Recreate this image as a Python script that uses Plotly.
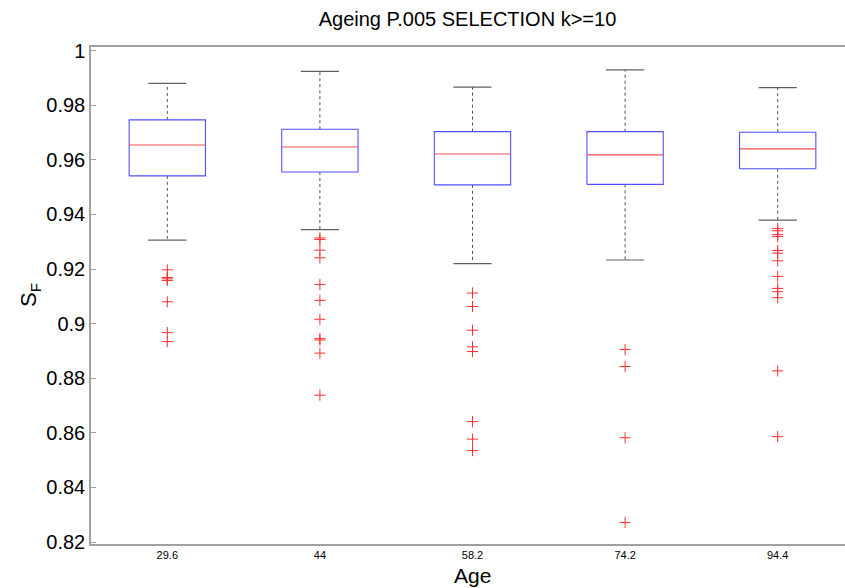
import plotly.graph_objects as go

# ---- data ----
ages = ["29.6", "44", "58.2", "74.2", "94.4"]
q1 = [0.9541, 0.9555, 0.9508, 0.9510, 0.9567]
median = [0.9654, 0.9647, 0.9621, 0.9618, 0.9640]
q3 = [0.9746, 0.9712, 0.9703, 0.9703, 0.9701]
lower_whisker = [0.9306, 0.9344, 0.9220, 0.9233, 0.9379]
upper_whisker = [0.9880, 0.9924, 0.9866, 0.9929, 0.9864]
outliers = [
    [0.9197, 0.9169, 0.9164, 0.9158, 0.9080, 0.8967, 0.8934],
    [0.9314, 0.9308, 0.9269, 0.9241, 0.9143, 0.9085, 0.9016, 0.8945, 0.8940, 0.8892, 0.8738],
    [0.9112, 0.9063, 0.8976, 0.8915, 0.8898, 0.8641, 0.8577, 0.8535],
    [0.8905, 0.8843, 0.8582, 0.8272],
    [0.9348, 0.9340, 0.9326, 0.9319, 0.9268, 0.9258, 0.9230, 0.9173, 0.9129, 0.9117, 0.9095, 0.8827, 0.8586],
]
y_ticks = [0.82, 0.84, 0.86, 0.88, 0.90, 0.92, 0.94, 0.96, 0.98, 1.0]

FONT = "Liberation Sans, Arial, Helvetica, sans-serif"
BOX_HALF = 0.25
CAP_HALF = 0.125

pos = list(range(1, len(ages) + 1))

wx, wy, cx, cy, bx, by, mx, my, ox, oy = ([] for _ in range(10))
for i, p in enumerate(pos):
    wx += [p, p, None, p, p, None]
    wy += [q3[i], upper_whisker[i], None, q1[i], lower_whisker[i], None]
    cx += [p - CAP_HALF, p + CAP_HALF, None, p - CAP_HALF, p + CAP_HALF, None]
    cy += [upper_whisker[i], upper_whisker[i], None, lower_whisker[i], lower_whisker[i], None]
    bx += [p - BOX_HALF, p + BOX_HALF, p + BOX_HALF, p - BOX_HALF, p - BOX_HALF, None]
    by += [q1[i], q1[i], q3[i], q3[i], q1[i], None]
    mx += [p - BOX_HALF, p + BOX_HALF, None]
    my += [median[i], median[i], None]
    ox += [p] * len(outliers[i])
    oy += outliers[i]

fig = go.Figure()
fig.add_trace(go.Scatter(x=wx, y=wy, mode="lines", line=dict(color="#505050", width=1, dash="dot"),
                         hoverinfo="skip", showlegend=False))
fig.add_trace(go.Scatter(x=cx, y=cy, mode="lines", line=dict(color="#606060", width=1.2),
                         hoverinfo="skip", showlegend=False))
fig.add_trace(go.Scatter(x=bx, y=by, mode="lines", line=dict(color="#5050ff", width=1.1),
                         hoverinfo="skip", showlegend=False))
fig.add_trace(go.Scatter(x=mx, y=my, mode="lines", line=dict(color="#f05050", width=1.1),
                         hoverinfo="skip", showlegend=False))
fig.add_trace(go.Scatter(x=ox, y=oy, mode="markers",
                         marker=dict(symbol="cross-thin", size=8, line=dict(color="#ff3030", width=1)),
                         hoverinfo="skip", showlegend=False))

# The original axes run slightly past the right edge of the 845px window.
W, H = 854, 588
PW = W - 91
fig.update_layout(
    width=W, height=H,
    margin=dict(l=91, r=0, t=47, b=44),
    plot_bgcolor="white", paper_bgcolor="white",
    font=dict(family=FONT, color="black"),
    title=dict(text="Ageing P.005 SELECTION k>=10", x=467.5 / W, xanchor="center",
               y=1 - 19 / H, yanchor="middle", font=dict(size=20, family=FONT)),
    xaxis=dict(range=[0.5, 5.5], tickvals=pos, ticktext=ages, tickfont=dict(size=11),
               showline=True, linecolor="#a0a0a0", linewidth=1.5, mirror=True,
               showgrid=False, zeroline=False, ticks="", automargin=False),
    yaxis=dict(range=[0.8193, 1.0013], tickvals=y_ticks, ticktext=[f"{v:g}" for v in y_ticks],
               tickfont=dict(size=20), ticks="inside", ticklen=5, tickcolor="#a0a0a0",
               showline=True, linecolor="#a0a0a0", linewidth=1.5,
               showgrid=False, zeroline=False, automargin=False),
    annotations=[
        dict(text="Age", xref="paper", yref="paper", x=(472.5 - 91) / PW, y=(544 - 575) / 497,
             xanchor="center", yanchor="middle", showarrow=False, font=dict(size=21, family=FONT)),
        dict(text="S<sub>F</sub>", xref="paper", yref="paper", x=(30 - 91) / PW, y=(544 - 295) / 497,
             xanchor="center", yanchor="middle", textangle=-90, showarrow=False,
             font=dict(size=22, family=FONT)),
    ],
)

fig.write_html("out.html", config={"displayModeBar": False},
               post_script="document.body.style.margin='0';document.body.style.overflow='hidden';")
